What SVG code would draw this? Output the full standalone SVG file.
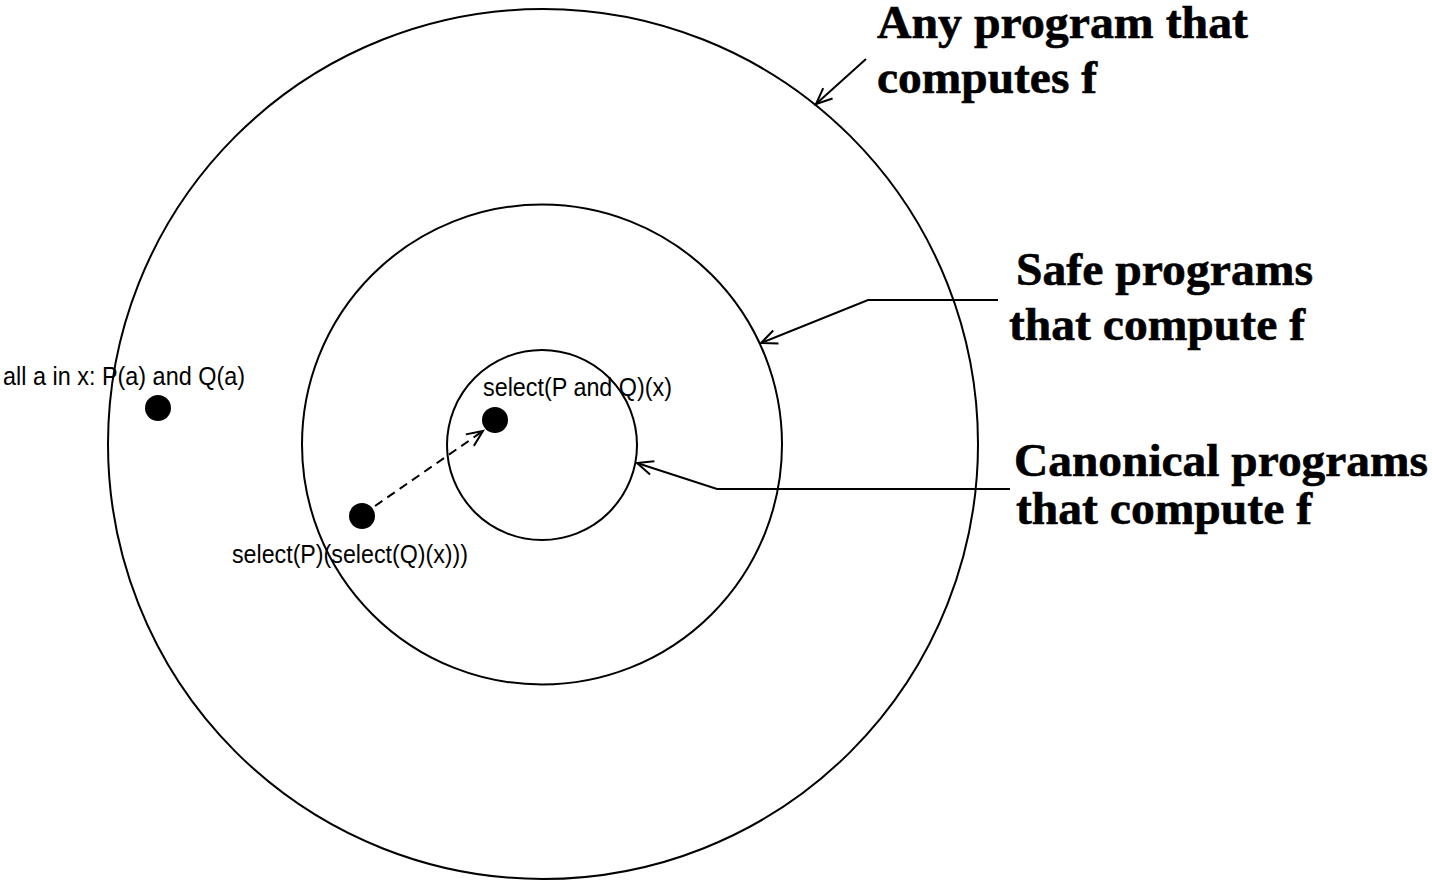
<svg xmlns="http://www.w3.org/2000/svg" width="1432" height="881" viewBox="0 0 1432 881">
<style>
.ring{fill:none;stroke:#000;stroke-width:2}
.dot{fill:#000}
.conn{fill:none;stroke:#000;stroke-width:2}
.big{font-family:"Liberation Serif","Times New Roman",serif;font-weight:bold;font-size:47px;fill:#000;stroke:#000;stroke-width:0.6}
.small{font-family:"Liberation Sans",Arial,sans-serif;font-size:26px;fill:#000}
</style>
<defs>
<marker id="open" markerUnits="userSpaceOnUse" markerWidth="24" markerHeight="24" refX="17" refY="8" orient="auto" viewBox="0 0 24 16">
<path d="M1,1 L17,8 L1,15" fill="none" stroke="#000" stroke-width="2"/>
</marker>
</defs>
<rect width="1432" height="881" fill="#fff"/>
<g id="outer"><circle class="ring" cx="543" cy="444" r="435"/></g>
<g id="safe"><circle class="ring" cx="542" cy="444.5" r="240"/></g>
<g id="canonical"><circle class="ring" cx="542" cy="445" r="95"/></g>
<g id="dot-all"><circle class="dot" cx="158" cy="408" r="13"/><text class="small" x="3" y="385" textLength="242" lengthAdjust="spacingAndGlyphs">all a in x: P(a) and Q(a)</text></g>
<g id="dot-canon"><circle class="dot" cx="495" cy="420" r="13"/><text class="small" x="483" y="396" textLength="189" lengthAdjust="spacingAndGlyphs">select(P and Q)(x)</text></g>
<g id="dot-safe"><circle class="dot" cx="362" cy="516" r="13"/><text class="small" x="232" y="563" textLength="236" lengthAdjust="spacingAndGlyphs">select(P)(select(Q)(x)))</text></g>
<g id="label-any"><text class="big" x="877" y="38" textLength="371" lengthAdjust="spacingAndGlyphs">Any program that</text><text class="big" x="877" y="93" textLength="220" lengthAdjust="spacingAndGlyphs">computes f</text></g>
<g id="label-safe"><text class="big" x="1016" y="285" textLength="297" lengthAdjust="spacingAndGlyphs">Safe programs</text><text class="big" x="1009" y="340" textLength="296" lengthAdjust="spacingAndGlyphs">that compute f</text></g>
<g id="label-canon"><text class="big" x="1014" y="476" textLength="414" lengthAdjust="spacingAndGlyphs">Canonical programs</text><text class="big" x="1016" y="524" textLength="296" lengthAdjust="spacingAndGlyphs">that compute f</text></g>
<g id="connectors">
<path class="conn" d="M866,59 L816,104" marker-end="url(#open)"/>
<path class="conn" d="M998,300 L868,300 L761,343" marker-end="url(#open)"/>
<path class="conn" d="M1010,489 L717,489 L637,463" marker-end="url(#open)"/>
<path class="conn" d="M375,506 L483,431" stroke-dasharray="9,6" marker-end="url(#open)"/>
</g>
</svg>
